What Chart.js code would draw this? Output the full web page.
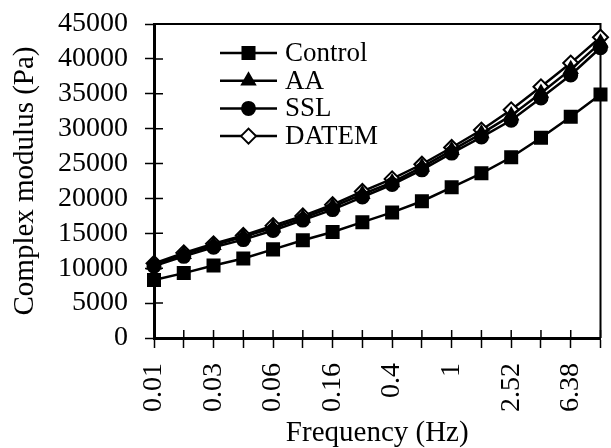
<!DOCTYPE html>
<html>
<head>
<meta charset="utf-8">
<script src="https://cdn.jsdelivr.net/npm/chart.js@4/dist/chart.umd.min.js"></script>
<style>
  html, body { margin: 0; padding: 0; background: #fff; }
  #wrap { width: 611px; height: 448px; }
</style>
</head>
<body>
<div id="wrap"><canvas id="modChart" width="611" height="448"></canvas></div>
<script>
  // Frequencias (Hz) e modulo complexo (Pa)
  var freqs = ["0.01", "0.016", "0.03", "0.04", "0.06", "0.1", "0.16", "0.25", "0.4", "0.63", "1", "1.59", "2.52", "4.01", "6.38", "10"];
  var control = [8300, 9300, 10400, 11400, 12700, 14000, 15200, 16600, 18000, 19600, 21600, 23600, 25900, 28700, 31700, 34900];
  var aa = [10500, 12000, 13300, 14500, 15800, 17200, 18800, 20600, 22300, 24500, 26900, 29300, 31900, 35100, 38500, 42300];
  var ssl = [10300, 11700, 13000, 14100, 15400, 16900, 18400, 20200, 22000, 24100, 26500, 28800, 31200, 34400, 37700, 41600];
  var datem = [10700, 12200, 13500, 14700, 16100, 17500, 19100, 21000, 22800, 24900, 27300, 29800, 32700, 36000, 39400, 43100];
  var yTicks = [0, 5000, 10000, 15000, 20000, 25000, 30000, 35000, 40000, 45000];

  var serif = "'Liberation Serif', 'Times New Roman', serif";
  Chart.defaults.font.family = serif;
  Chart.defaults.color = '#000';

  function serie(label, data, style, radius, fill) {
    return {
      label: label,
      data: data,
      borderColor: '#000',
      borderWidth: 2.5,
      pointStyle: style,
      pointRadius: radius,
      pointHoverRadius: radius,
      pointBackgroundColor: fill,
      pointBorderColor: '#000',
      pointBorderWidth: 2,
      tension: 0,
      fill: false
    };
  }

  // tira o espaco extra que o Chart.js reserva para os rotulos das pontas
  function semPadding(axis) {
    axis.paddingLeft = 0;
    axis.paddingRight = 0;
    axis.paddingTop = 0;
    axis.paddingBottom = 0;
  }

  // moldura + marcas para dentro
  var moldura = {
    id: 'moldura',
    beforeDatasetsDraw: function(chart) {
      var ctx = chart.ctx, a = chart.chartArea;
      var sx = chart.scales.x, sy = chart.scales.y;
      ctx.save();
      ctx.strokeStyle = '#000';
      ctx.lineWidth = 2;
      ctx.beginPath();
      ctx.moveTo(a.left, a.top);
      ctx.lineTo(a.right, a.top);
      ctx.lineTo(a.right, a.bottom);
      ctx.stroke();
      ctx.lineWidth = 1.5;
      ctx.beginPath();
      sy.ticks.forEach(function(t, i) {
        var py = sy.getPixelForTick(i);
        ctx.moveTo(a.left, py);
        ctx.lineTo(a.left + 9, py);
      });
      sx.ticks.forEach(function(t, i) {
        var px = sx.getPixelForTick(i);
        ctx.moveTo(px, a.bottom);
        ctx.lineTo(px, a.bottom - 8);
      });
      ctx.stroke();
      ctx.restore();
    }
  };

  // legenda dentro do grafico
  var legenda = {
    id: 'legenda',
    afterDatasetsDraw: function(chart) {
      var ctx = chart.ctx, a = chart.chartArea;
      ctx.save();
      ctx.font = '27px ' + serif;
      ctx.textBaseline = 'middle';
      chart.data.datasets.forEach(function(ds, i) {
        var y = a.top + 29 + i * 27.7;
        var x0 = a.left + 66, x1 = a.left + 123;
        ctx.strokeStyle = '#000';
        ctx.lineWidth = 2.5;
        ctx.beginPath();
        ctx.moveTo(x0, y);
        ctx.lineTo(x1, y);
        ctx.stroke();
        ctx.fillStyle = ds.pointBackgroundColor;
        ctx.lineWidth = ds.pointBorderWidth;
        Chart.helpers.drawPoint(ctx, { pointStyle: ds.pointStyle, radius: ds.pointRadius, borderWidth: ds.pointBorderWidth, rotation: 0 }, (x0 + x1) / 2, y);
        ctx.fillStyle = '#000';
        ctx.fillText(ds.label, x1 + 8, y + 1);
      });
      ctx.restore();
    }
  };

  var modChart = new Chart(document.getElementById('modChart'), {
    type: 'line',
    data: {
      labels: freqs,
      datasets: [
        serie('Control', control, 'rect', 8.5, '#000'),
        serie('AA', aa, 'triangle', 7.5, '#000'),
        serie('SSL', ssl, 'circle', 6.5, '#000'),
        serie('DATEM', datem, 'rectRot', 7.5, '#fff')
      ]
    },
    options: {
      responsive: false,
      animation: false,
      layout: { padding: { left: 0, right: 4, top: 24, bottom: 0 } },
      plugins: {
        legend: { display: false },
        tooltip: { enabled: false }
      },
      scales: {
        x: {
          type: 'category',
          offset: false,
          afterFit: function(axis) { semPadding(axis); axis.height = 110; },
          grid: { drawOnChartArea: false, tickLength: 10, tickWidth: 1.5, tickColor: '#000' },
          border: { color: '#000', width: 3 },
          ticks: {
            autoSkip: false,
            minRotation: 90,
            maxRotation: 90,
            padding: 15,
            font: { size: 28 },
            callback: function(val, i) { return i % 2 === 0 ? this.getLabelForValue(val) : ''; }
          },
          title: { display: true, text: 'Frequency (Hz)', font: { size: 29, lineHeight: 1 }, padding: { top: 6, bottom: 0 } }
        },
        y: {
          min: 0,
          max: 45000,
          afterFit: function(axis) { semPadding(axis); axis.width = 154; },
          afterBuildTicks: function(axis) { axis.ticks = yTicks.map(function(v) { return { value: v }; }); },
          grid: { drawOnChartArea: false, tickLength: 9, tickWidth: 1.5, tickColor: '#000' },
          border: { color: '#000', width: 3 },
          ticks: {
            autoSkip: false,
            padding: 17,
            font: { size: 28 },
            callback: function(v) { return String(v); }
          },
          title: { display: true, text: 'Complex modulus (Pa)', font: { size: 29, lineHeight: 1 }, padding: { top: 11, bottom: 16 } }
        }
      }
    },
    plugins: [moldura, legenda]
  });
</script>
</body>
</html>
